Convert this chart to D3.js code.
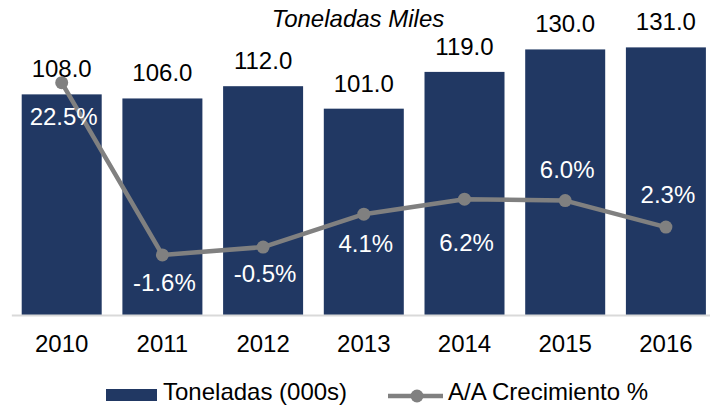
<!DOCTYPE html>
<html>
<head>
<meta charset="utf-8">
<script src="https://cdn.jsdelivr.net/npm/d3@7"></script>
<style>
    body { margin: 0; background: #fff; }
    text { font-family: "Liberation Sans", Arial, sans-serif; }
</style>
</head>
<body>
<div id="my_dataviz"></div>
<script>
const years = ["2010", "2011", "2012", "2013", "2014", "2015", "2016"];
const toneladas = [108.0, 106.0, 112.0, 101.0, 119.0, 130.0, 131.0];
const crecimiento = [22.5, -1.6, -0.5, 4.1, 6.2, 6.0, 2.3];
// vertical shift of each growth label from its marker (Excel hand placed them)
const growthLabelDy = [42, 36, 35, 38, 52, -23, -24];

class ComboChart {
    constructor() {
        this.init();
    }

    init() {
        let width = 710;
        let height = 407;
        this.width = width;
        this.height = height;

        this.svg = d3.select("#my_dataviz")
            .append("svg")
            .attr("width", width)
            .attr("height", height);

        this.x = d3.scaleBand()
            .range([11.35, 716.25])
            .paddingInner(0.2056)
            .paddingOuter(0.1028);

        this.y = d3.scaleLinear()
            .domain([0, 140])
            .range([315, 29]);

        this.y2 = d3.scaleLinear()
            .domain([-10, 30])
            .range([315, 29]);
    }

    build() {
        let svg = this.svg;
        let x = this.x;
        let y = this.y;
        let y2 = this.y2;
        let barColor = "#213863";
        let lineColor = "#808080";
        let fontSize = "24px";

        x.domain(years);

        svg.append("text")
            .attr("x", 358)
            .attr("y", 27)
            .attr("text-anchor", "middle")
            .style("font-size", fontSize)
            .style("font-style", "italic")
            .attr("fill", "#000")
            .text("Toneladas Miles");

        svg.selectAll("rect.bar")
            .data(toneladas)
            .enter()
            .append("rect")
            .attr("class", "bar")
            .attr("x", function(d, i) { return x(years[i]); })
            .attr("y", function(d) { return y(d); })
            .attr("width", x.bandwidth())
            .attr("height", function(d) { return y(0) - y(d); })
            .attr("fill", barColor);

        // x axis: light baseline, no ticks
        let xAxis = svg.append("g")
            .attr("transform", "translate(0," + y(0) + ")")
            .call(d3.axisBottom(x).tickSize(0).tickPadding(14));
        xAxis.select(".domain")
            .attr("stroke", "#d9d9d9")
            .attr("stroke-width", 2);
        xAxis.selectAll("text")
            .attr("dy", null)
            .attr("y", 37)
            .style("font-size", fontSize)
            .style("font-family", "'Liberation Sans', Arial, sans-serif")
            .attr("fill", "#000");

        svg.selectAll("text.barlabel")
            .data(toneladas)
            .enter()
            .append("text")
            .attr("class", "barlabel")
            .attr("x", function(d, i) { return x(years[i]) + x.bandwidth() / 2; })
            .attr("y", function(d) { return y(d) - 17; })
            .attr("text-anchor", "middle")
            .style("font-size", fontSize)
            .attr("fill", "#000")
            .text(function(d) { return d.toFixed(1); });

        let line = d3.line()
            .x(function(d, i) { return x(years[i]) + x.bandwidth() / 2; })
            .y(function(d) { return y2(d); });

        svg.append("path")
            .datum(crecimiento)
            .attr("d", line)
            .attr("fill", "none")
            .attr("stroke", lineColor)
            .attr("stroke-width", 4.5)
            .attr("stroke-linejoin", "round");

        svg.selectAll("circle.marker")
            .data(crecimiento)
            .enter()
            .append("circle")
            .attr("class", "marker")
            .attr("cx", function(d, i) { return x(years[i]) + x.bandwidth() / 2; })
            .attr("cy", function(d) { return y2(d); })
            .attr("r", 6.5)
            .attr("fill", lineColor);

        svg.selectAll("text.growthlabel")
            .data(crecimiento)
            .enter()
            .append("text")
            .attr("class", "growthlabel")
            .attr("x", function(d, i) { return x(years[i]) + x.bandwidth() / 2 + 2; })
            .attr("y", function(d, i) { return y2(d) + growthLabelDy[i]; })
            .attr("text-anchor", "middle")
            .style("font-size", fontSize)
            .attr("fill", "#fff")
            .text(function(d) { return d.toFixed(1) + "%"; });

        // legend
        let legend = svg.append("g");
        legend.append("rect")
            .attr("x", 106)
            .attr("y", 389)
            .attr("width", 51)
            .attr("height", 12)
            .attr("fill", barColor);
        legend.append("text")
            .attr("x", 163)
            .attr("y", 400)
            .style("font-size", fontSize)
            .attr("fill", "#000")
            .text("Toneladas (000s)");
        legend.append("line")
            .attr("x1", 388)
            .attr("x2", 443)
            .attr("y1", 396)
            .attr("y2", 396)
            .attr("stroke", lineColor)
            .attr("stroke-width", 4.5);
        legend.append("circle")
            .attr("cx", 417)
            .attr("cy", 396)
            .attr("r", 6.5)
            .attr("fill", lineColor);
        legend.append("text")
            .attr("x", 448)
            .attr("y", 400)
            .style("font-size", fontSize)
            .attr("fill", "#000")
            .text("A/A Crecimiento %");
    }
}

let chart = new ComboChart();
chart.build();
</script>
</body>
</html>
